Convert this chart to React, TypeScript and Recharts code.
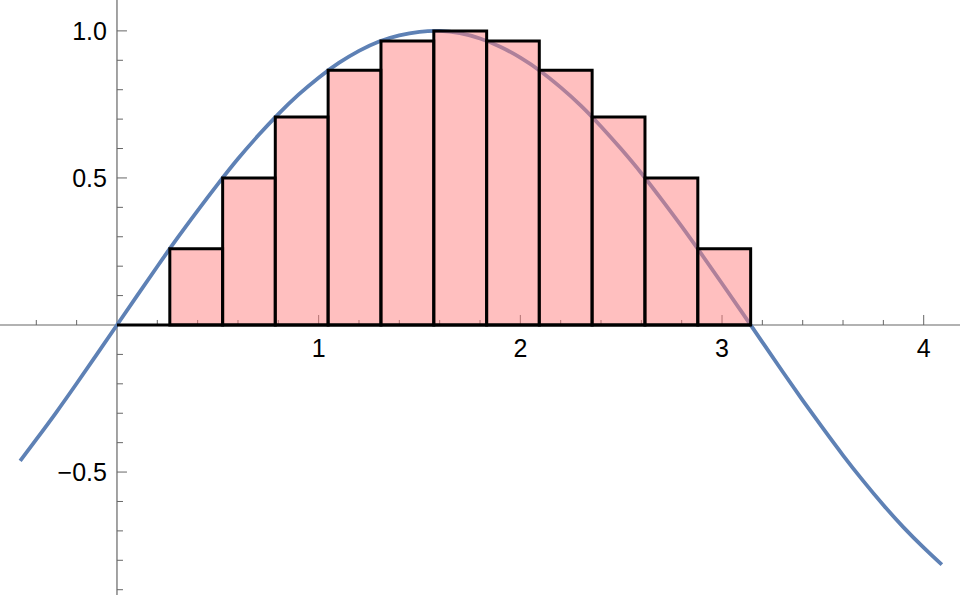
import { ComposedChart, Line, XAxis, YAxis, ReferenceArea, ReferenceLine, ReferenceDot } from 'recharts';

// curve samples
const curveX = [-0.48, -0.4, -0.3, -0.2, -0.1, 0, 0.1, 0.2, 0.3, 0.4, 0.5, 0.6, 0.7, 0.8, 0.9, 1.0, 1.1, 1.2, 1.3, 1.4, 1.5, 1.6, 1.7, 1.8, 1.9, 2.0, 2.1, 2.2, 2.3, 2.4, 2.5, 2.6, 2.7, 2.8, 2.9, 3.0, 3.1, 3.2, 3.3, 3.4, 3.5, 3.6, 3.7, 3.8, 3.9, 4.0, 4.09];
const curveY = [-0.462, -0.389, -0.296, -0.199, -0.1, 0, 0.1, 0.199, 0.296, 0.389, 0.479, 0.565, 0.644, 0.717, 0.783, 0.841, 0.891, 0.932, 0.964, 0.985, 0.997, 1.0, 0.992, 0.974, 0.946, 0.909, 0.863, 0.808, 0.746, 0.675, 0.598, 0.516, 0.427, 0.335, 0.239, 0.141, 0.042, -0.058, -0.158, -0.256, -0.351, -0.443, -0.53, -0.612, -0.688, -0.757, -0.815];

// rectangles: edges and heights
const barEdges = [0, 0.262, 0.524, 0.785, 1.047, 1.309, 1.571, 1.833, 2.094, 2.356, 2.618, 2.88, 3.142];
const barHeights = [0, 0.259, 0.5, 0.707, 0.866, 0.966, 1.0, 0.966, 0.866, 0.707, 0.5, 0.259];

const xMajorTicks = [1, 2, 3, 4];
const xMajorLabels = ['1', '2', '3', '4'];
const xMinorTicks = [-0.4, -0.2, 0.2, 0.4, 0.6, 0.8, 1.2, 1.4, 1.6, 1.8, 2.2, 2.4, 2.6, 2.8, 3.2, 3.4, 3.6, 3.8];
const yMajorTicks = [1.0, 0.5, -0.5];
const yMajorLabels = ['1.0', '0.5', '\u22120.5'];
const yMinorTicks = [0.9, 0.8, 0.7, 0.6, 0.4, 0.3, 0.2, 0.1, -0.1, -0.2, -0.3, -0.4, -0.6, -0.7, -0.8, -0.9];

const data = curveX.map((x, i) => ({ x, y: curveY[i] }));

const axisColor = '#666666';
const font = '"Liberation Sans", Arial, sans-serif';

// tick lengths in data units (x: ~201.5 px/unit, y: ~294 px/unit)
const xMajorLen = 10 / 294;
const xMinorLen = 5 / 294;
const yMajorLen = 10 / 201.5;
const yMinorLen = 6 / 201.5;

const xLabel = (text: string) => (props: any) => {
  const vb = props.viewBox;
  const cx = vb.x + vb.width / 2;
  const cy = vb.y + vb.height / 2;
  return (
    <text x={cx} y={cy + 32} textAnchor="middle" fontSize={25} fontFamily={font} fill="#000">
      {text}
    </text>
  );
};

const yLabel = (text: string) => (props: any) => {
  const vb = props.viewBox;
  const cx = vb.x + vb.width / 2;
  const cy = vb.y + vb.height / 2;
  return (
    <text x={cx - 10} y={cy + 9} textAnchor="end" fontSize={25} fontFamily={font} fill="#000">
      {text}
    </text>
  );
};

export default function App() {
  return (
    <div style={{ position: 'absolute', left: 0, top: 0, width: 960, height: 595, background: '#fff' }}>
      <ComposedChart width={960} height={595} data={data} margin={{ top: 0, right: 0, bottom: 0, left: 0 }}>
        <XAxis type="number" dataKey="x" domain={[-0.58, 4.18]} hide allowDataOverflow />
        <YAxis type="number" domain={[-0.918, 1.105]} hide allowDataOverflow />

        <ReferenceLine y={0} stroke={axisColor} strokeWidth={1.2} />
        <ReferenceLine x={0} stroke={axisColor} strokeWidth={1.2} />
        {xMajorTicks.map((t) => (
          <ReferenceLine key={'xM' + t} segment={[{ x: t, y: 0 }, { x: t, y: xMajorLen }]} stroke={axisColor} strokeWidth={1} />
        ))}
        {xMinorTicks.map((t) => (
          <ReferenceLine key={'xm' + t} segment={[{ x: t, y: 0 }, { x: t, y: xMinorLen }]} stroke={axisColor} strokeWidth={1} />
        ))}
        {yMajorTicks.map((t) => (
          <ReferenceLine key={'yM' + t} segment={[{ x: 0, y: t }, { x: yMajorLen, y: t }]} stroke={axisColor} strokeWidth={1} />
        ))}
        {yMinorTicks.map((t) => (
          <ReferenceLine key={'ym' + t} segment={[{ x: 0, y: t }, { x: yMinorLen, y: t }]} stroke={axisColor} strokeWidth={1} />
        ))}

        <Line
          type="natural"
          dataKey="y"
          stroke="#5E81B5"
          strokeWidth={3.8}
          dot={false}
          activeDot={false}
          isAnimationActive={false}
        />

        {barHeights.map((h, i) =>
          h > 0 ? (
            <ReferenceArea
              key={'bar' + i}
              x1={barEdges[i]}
              x2={barEdges[i + 1]}
              y1={0}
              y2={h}
              fill="#ff8080"
              fillOpacity={0.5}
              stroke="#000"
              strokeWidth={3}
              zIndex={500}
            />
          ) : null
        )}
        <ReferenceLine
          segment={[{ x: barEdges[0], y: 0 }, { x: barEdges[barEdges.length - 1], y: 0 }]}
          stroke="#000"
          strokeWidth={3}
          zIndex={500}
        />

        {xMajorTicks.map((t, i) => (
          <ReferenceDot key={'xl' + t} x={t} y={0} r={1} fill="none" stroke="none" label={xLabel(xMajorLabels[i])} />
        ))}
        {yMajorTicks.map((t, i) => (
          <ReferenceDot key={'yl' + t} x={0} y={t} r={1} fill="none" stroke="none" label={yLabel(yMajorLabels[i])} />
        ))}
      </ComposedChart>
    </div>
  );
}
